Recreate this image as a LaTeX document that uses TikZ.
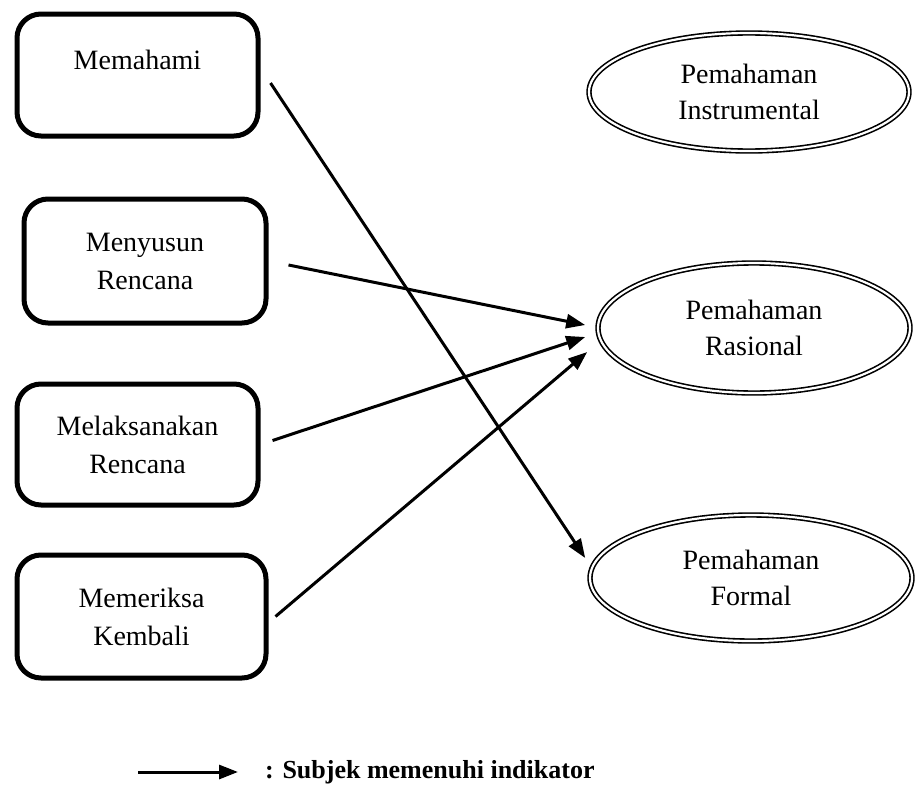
\documentclass[tikz,border=0pt]{standalone}
\usepackage{fontspec}
\setmainfont{Liberation Serif}
\usetikzlibrary{arrows.meta,shapes.geometric}
\tikzset{box/.style = {draw, line width=5pt, rounded corners=24pt, align=center, inner sep=0pt, font=\fontsize{28}{38}\selectfont}}
\tikzset{oval/.style = {ellipse, draw, double, line width=1.6pt, double distance=2.2pt, align=center, inner sep=0pt, font=\fontsize{28}{36}\selectfont}}
\tikzset{arr/.style = {line width=3pt, -{Triangle[length=19pt,width=14pt]}}}

\begin{document}
\begin{tikzpicture}[x=1pt,y=-1pt]
\useasboundingbox (0,0) rectangle (915,787);
% langkah pemecahan masalah
\node[box, minimum width=241pt, minimum height=122pt, text depth=30pt] (b1) at (137.5,75) {Memahami};
\node[box, minimum width=242pt, minimum height=124pt] (b2) at (145,261) {Menyusun\\Rencana};
\node[box, minimum width=241pt, minimum height=121pt] (b3) at (137.5,444.5) {Melaksanakan\\Rencana};
\node[box, minimum width=249pt, minimum height=123pt] (b4) at (141.5,616.5) {Memeriksa\\Kembali};

% jenis pemahaman
\node[oval, minimum width=320pt, minimum height=118pt] (e1) at (749,92) {Pemahaman\\Instrumental};
\node[oval, minimum width=312pt, minimum height=130pt] (e2) at (754,328) {Pemahaman\\Rasional};
\node[oval, minimum width=322pt, minimum height=126pt] (e3) at (751,578) {Pemahaman\\Formal};

\foreach \from/\sa/\to/\sb in {b1/{10,8}/e3/{-4,-20}, b2/{20,4}/e2/{-12,-3}, b3/{12,-4}/e2/{-12,9}, b4/{7,0}/e2/{-10,24}}
{
	\draw[arr] ([shift={(\sa)}]\from.east) -- ([shift={(\sb)}]\to.west);
}

% keterangan
\coordinate (lg) at (138,772);
\node[anchor=west, inner sep=0pt, font=\bfseries\fontsize{26}{30}\selectfont] (legend) at (265,772) {: Subjek memenuhi indikator};
\draw[arr] (lg) -- (legend.west) [shorten >=27pt];

\end{tikzpicture}
\end{document}
